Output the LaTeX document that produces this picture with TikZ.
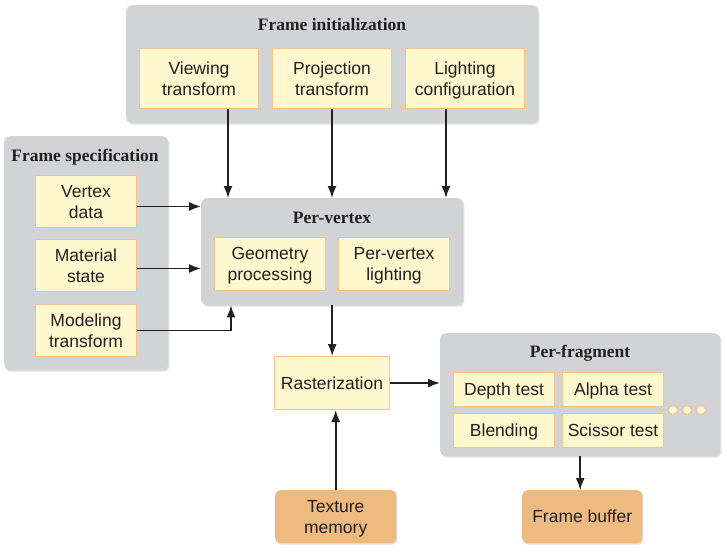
\documentclass[tikz,border=0pt]{standalone}
\usepackage{fontspec}
\setmainfont{Liberation Sans}
\newfontfamily\titlefont{Liberation Serif}
\usetikzlibrary{arrows.meta,shadows}
\definecolor{grp}{RGB}{209,211,212}
\definecolor{ylw}{RGB}{255,247,206}
\definecolor{ybd}{RGB}{245,196,140}
\definecolor{org}{RGB}{239,186,128}
\definecolor{txt}{RGB}{35,31,32}
\newcommand{\mystrut}{\rule[-4.5pt]{0pt}{21pt}}
\newcommand{\twol}[2]{\mystrut #1\\\mystrut #2}
\tikzset{
  group/.style={fill=grp, draw=none, rounded corners=6pt, anchor=north west, inner sep=0pt,
    drop shadow={opacity=0.25, shadow xshift=1.2pt, shadow yshift=-1.5pt}},
  ybox/.style={fill=ylw, draw=ybd, line width=1pt, anchor=north west, inner sep=0pt,
    align=center, text=txt, font=\fontsize{17.5}{21}\selectfont},
  obox/.style={fill=org, draw=none, rounded corners=5pt, anchor=north west, inner sep=0pt,
    align=center, text=txt, font=\fontsize{17.5}{21}\selectfont,
    drop shadow={opacity=0.25, shadow xshift=1.2pt, shadow yshift=-1.5pt}},
  ttl/.style={text=txt, font=\titlefont\bfseries\fontsize{17.5}{20}\selectfont, inner sep=0pt},
  dot/.style={circle, fill=ylw, draw=ybd, line width=1pt, minimum size=9pt, inner sep=0pt},
  arr/.style={line width=1.7pt, draw=txt, -{Latex[length=12pt,width=9pt]}}
}
\begin{document}
\begin{tikzpicture}[x=1pt,y=-1pt]
\useasboundingbox (0,0) rectangle (727,552);
% groups
\node[group, minimum width=412pt, minimum height=118pt] (fi) at (126,5) {};
\node[group, minimum width=164pt, minimum height=234pt] (fs) at (4,136) {};
\node[group, minimum width=262pt, minimum height=107pt] (pv) at (201,198) {};
\node[group, minimum width=280pt, minimum height=123pt] (pf) at (440,333) {};
% titles
\node[ttl] (fit) at (332,25) {Frame initialization};
\node[ttl] (fst) at (85,157) {Frame specification};
\node[ttl] (pvt) at (332,218) {Per-vertex};
\node[ttl] (pft) at (580,353) {Per-fragment};
% frame initialization boxes
\node[ybox, minimum width=119pt, minimum height=60pt] (vt) at (139,48) {\twol{Viewing}{transform}};
\node[ybox, minimum width=119pt, minimum height=60pt] (pt) at (272,48) {\twol{Projection}{transform}};
\node[ybox, minimum width=119pt, minimum height=60pt] (lc) at (405,48) {\twol{Lighting}{configuration}};
% frame specification boxes
\node[ybox, minimum width=101pt, minimum height=52pt] (vd) at (35,175) {\twol{Vertex}{data}};
\node[ybox, minimum width=101pt, minimum height=52pt] (ms) at (35,239) {\twol{Material}{state}};
\node[ybox, minimum width=101pt, minimum height=52pt] (mt) at (35,304) {\twol{Modeling}{transform}};
% per-vertex boxes
\node[ybox, minimum width=111pt, minimum height=53pt] (gp) at (214,237) {\twol{Geometry}{processing}};
\node[ybox, minimum width=111pt, minimum height=53pt] (pl) at (338,237) {\twol{Per-vertex}{lighting}};
% rasterization
\node[ybox, minimum width=115pt, minimum height=53pt] (ras) at (274,356) {\mystrut Rasterization};
% per-fragment boxes
\node[ybox, minimum width=101pt, minimum height=34pt] (dt) at (453,372) {\mystrut Depth test};
\node[ybox, minimum width=101pt, minimum height=34pt] (at) at (562,372) {\mystrut Alpha test};
\node[ybox, minimum width=101pt, minimum height=34pt] (bl) at (453,413) {\mystrut Blending};
\node[ybox, minimum width=101pt, minimum height=34pt] (st) at (562,413) {\mystrut Scissor test};
\node[dot] (d1) at (673,410) {};
\node[dot] (d2) at (687,410) {};
\node[dot] (d3) at (701,410) {};
% orange boxes
\node[obox, minimum width=121pt, minimum height=53pt] (tm) at (275,490) {\twol{Texture}{memory}};
\node[obox, minimum width=120pt, minimum height=53pt] (fb) at (522,490) {\mystrut Frame buffer};
% connectors
\draw[arr] ([xshift=29pt]vt.south) -- ([xshift=29pt]vt.south |- pv.north);
\draw[arr] (pt.south) -- (pt.south |- pv.north);
\draw[arr] ([xshift=-19pt]lc.south) -- ([xshift=-19pt]lc.south |- pv.north);
\draw[arr] ([yshift=-5pt]vd.east) -- ([yshift=-5pt]vd.east -| pv.west);
\draw[arr] ([yshift=-3pt]ms.east) -- ([yshift=-3pt]ms.east -| pv.west);
\draw[arr] (mt.east) -| ([xshift=30pt]pv.south west);
\draw[arr] (pv.south) -- (pv.south |- ras.north);
\draw[arr] (tm.north) -- (tm.north |- ras.south);
\draw[arr] (ras.east) -- (ras.east -| pf.west);
\draw[arr] (pf.south) -- (pf.south |- fb.north);
\end{tikzpicture}
\end{document}
